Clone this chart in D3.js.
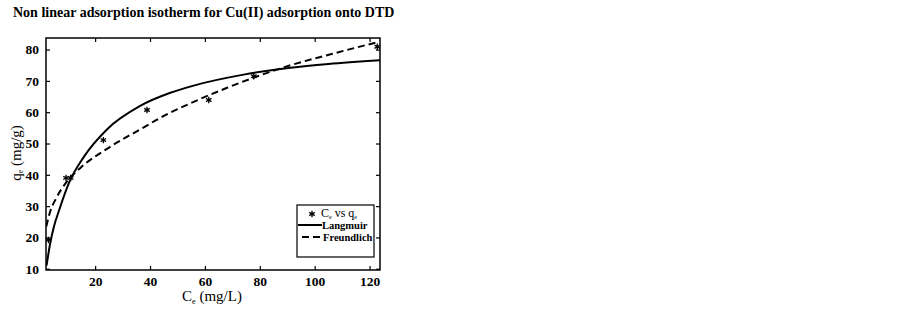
<!DOCTYPE html>
<html>
<head>
<meta charset="utf-8">
<script src="https://cdn.jsdelivr.net/npm/d3@7"></script>
<style>
  body { margin: 0; background: #fff; }
  svg { display: block; }
  .axis text { font-family: "Liberation Serif", "Times New Roman", serif; font-weight: bold; font-size: 13.5px; fill: #000; }
  .axis line { stroke: #000; stroke-width: 1.2; }
  .axis path { display: none; }
</style>
</head>
<body>
<svg id="chart" width="902" height="310"></svg>
<script>
// observed points, Ce (mg/L) vs qe (mg/g)
var obsCe = [3.0, 9.4, 11.1, 23.0, 38.9, 61.4, 77.8, 122.8];
var obsQe = [19.2, 39.0, 39.0, 51.1, 60.7, 63.9, 71.5, 80.9];

// Langmuir fit curve
var langCe = [2.3, 3.6, 5.0, 7.0, 10.5, 15.7, 24.3, 36.4, 47.4, 55.9, 74.1, 91.2, 105.0, 124.0];
var langQe = [11.0, 18.0, 23.5, 29.0, 37.5, 45.5, 54.5, 62.0, 66.2, 68.5, 72.0, 74.2, 75.4, 76.6];

// Freundlich fit curve
var freuCe = [2.2, 3.6, 5.8, 9.4, 15.0, 24.3, 36.4, 45.0, 55.9, 68.1, 80.2, 91.2, 105.8, 123.0];
var freuQe = [23.5, 28.2, 32.5, 37.5, 42.5, 48.3, 54.5, 58.8, 63.3, 67.8, 71.8, 75.0, 78.5, 82.4];

var xTicks = [20, 40, 60, 80, 100, 120];
var yTicks = [10, 20, 30, 40, 50, 60, 70, 80];

var margin = {top: 38, right: 522, bottom: 40, left: 46};
var width = 902 - margin.left - margin.right;
var height = 310 - margin.top - margin.bottom;

var serif = '"Liberation Serif", "Times New Roman", serif';

var svg = d3.select('#chart');
var g = svg.append('g')
           .attr('transform', 'translate(' + margin.left + ',' + margin.top + ')');

var x = d3.scaleLinear().domain([2.1, 123.8]).range([0, width]);
var y = d3.scaleLinear().domain([9.6, 83.7]).range([height, 0]);

svg.append('text')
   .attr('x', 13)
   .attr('y', 17)
   .style('font-family', serif)
   .style('font-weight', 'bold')
   .style('font-size', '14px')
   .text('Non linear adsorption isotherm for Cu(II) adsorption onto DTD');

g.append('clipPath').attr('id', 'clip')
 .append('rect').attr('width', width).attr('height', height);

// axes, ticks pointing inward
g.append('g').attr('class', 'axis')
 .attr('transform', 'translate(0,' + height + ')')
 .call(d3.axisBottom(x).tickValues(xTicks).tickSizeInner(-4).tickSizeOuter(0).tickPadding(6));

g.append('g').attr('class', 'axis')
 .call(d3.axisTop(x).tickValues(xTicks).tickSizeInner(-4).tickSizeOuter(0).tickFormat(''));

g.append('g').attr('class', 'axis')
 .call(d3.axisLeft(y).tickValues(yTicks).tickSizeInner(-4).tickSizeOuter(0).tickPadding(7));

g.append('g').attr('class', 'axis')
 .attr('transform', 'translate(' + width + ',0)')
 .call(d3.axisRight(y).tickValues(yTicks).tickSizeInner(-4).tickSizeOuter(0).tickFormat(''));

g.append('rect')
 .attr('width', width)
 .attr('height', height)
 .attr('fill', 'none')
 .attr('stroke', '#000')
 .attr('stroke-width', 1.5);

var line = d3.line()
             .x(d => x(d[0]))
             .y(d => y(d[1]))
             .curve(d3.curveMonotoneX);

var langData = langCe.map((c, i) => [c, langQe[i]]);
var freuData = freuCe.map((c, i) => [c, freuQe[i]]);
var obsData = obsCe.map((c, i) => [c, obsQe[i]]);

var plot = g.append('g').attr('clip-path', 'url(#clip)');

plot.append('path')
    .datum(langData)
    .attr('fill', 'none')
    .attr('stroke', '#000')
    .attr('stroke-width', 2)
    .attr('d', line);

plot.append('path')
    .datum(freuData)
    .attr('fill', 'none')
    .attr('stroke', '#000')
    .attr('stroke-width', 2)
    .attr('stroke-dasharray', '7,4')
    .attr('d', line);

var star = d3.symbol().type(d3.symbolAsterisk).size(28);

g.selectAll('.obs')
 .data(obsData)
 .enter()
 .append('path')
 .attr('class', 'obs')
 .attr('transform', d => 'translate(' + x(d[0]) + ',' + y(d[1]) + ')')
 .attr('d', star)
 .attr('fill', 'none')
 .attr('stroke', '#000')
 .attr('stroke-width', 1.3);

// axis titles
var xl = svg.append('text')
            .attr('x', 212)
            .attr('y', 301)
            .attr('text-anchor', 'middle')
            .style('font-family', serif)
            .style('font-size', '15px');
xl.append('tspan').text('C');
xl.append('tspan').attr('dy', 3).style('font-size', '8px').text('e');
xl.append('tspan').attr('dy', -3).text(' (mg/L)');

var yl = svg.append('text')
            .attr('transform', 'translate(21,153) rotate(-90)')
            .attr('text-anchor', 'middle')
            .style('font-family', serif)
            .style('font-size', '15px');
yl.append('tspan').text('q');
yl.append('tspan').attr('dy', 2).style('font-size', '8px').text('e');
yl.append('tspan').attr('dy', -2).text(' (mg/g)');

// legend
var lg = svg.append('g').attr('transform', 'translate(297,205)');

lg.append('rect')
  .attr('width', 77)
  .attr('height', 52)
  .attr('fill', '#fff')
  .attr('stroke', '#000')
  .attr('stroke-width', 1.2);

lg.append('path')
  .attr('transform', 'translate(15,9)')
  .attr('d', star)
  .attr('fill', 'none')
  .attr('stroke', '#000')
  .attr('stroke-width', 1.3);

var lt = lg.append('text')
           .attr('x', 24)
           .attr('y', 12)
           .style('font-family', serif)
           .style('font-size', '12px');
lt.append('tspan').text('C');
lt.append('tspan').attr('dy', 2).style('font-size', '6px').text('e');
lt.append('tspan').attr('dy', -2).text(' vs q');
lt.append('tspan').attr('dy', 2).style('font-size', '6px').text('e');

lg.append('line')
  .attr('x1', 1).attr('x2', 25).attr('y1', 20).attr('y2', 20)
  .attr('stroke', '#000').attr('stroke-width', 2);

lg.append('text')
  .attr('x', 25).attr('y', 24)
  .style('font-family', serif)
  .style('font-weight', 'bold')
  .style('font-size', '10.5px')
  .text('Langmuir');

lg.append('line')
  .attr('x1', 5).attr('x2', 25).attr('y1', 32).attr('y2', 32)
  .attr('stroke', '#000').attr('stroke-width', 2)
  .attr('stroke-dasharray', '7,4');

lg.append('text')
  .attr('x', 26).attr('y', 35.5)
  .style('font-family', serif)
  .style('font-weight', 'bold')
  .style('font-size', '10.5px')
  .text('Freundlich');
</script>
</body>
</html>
